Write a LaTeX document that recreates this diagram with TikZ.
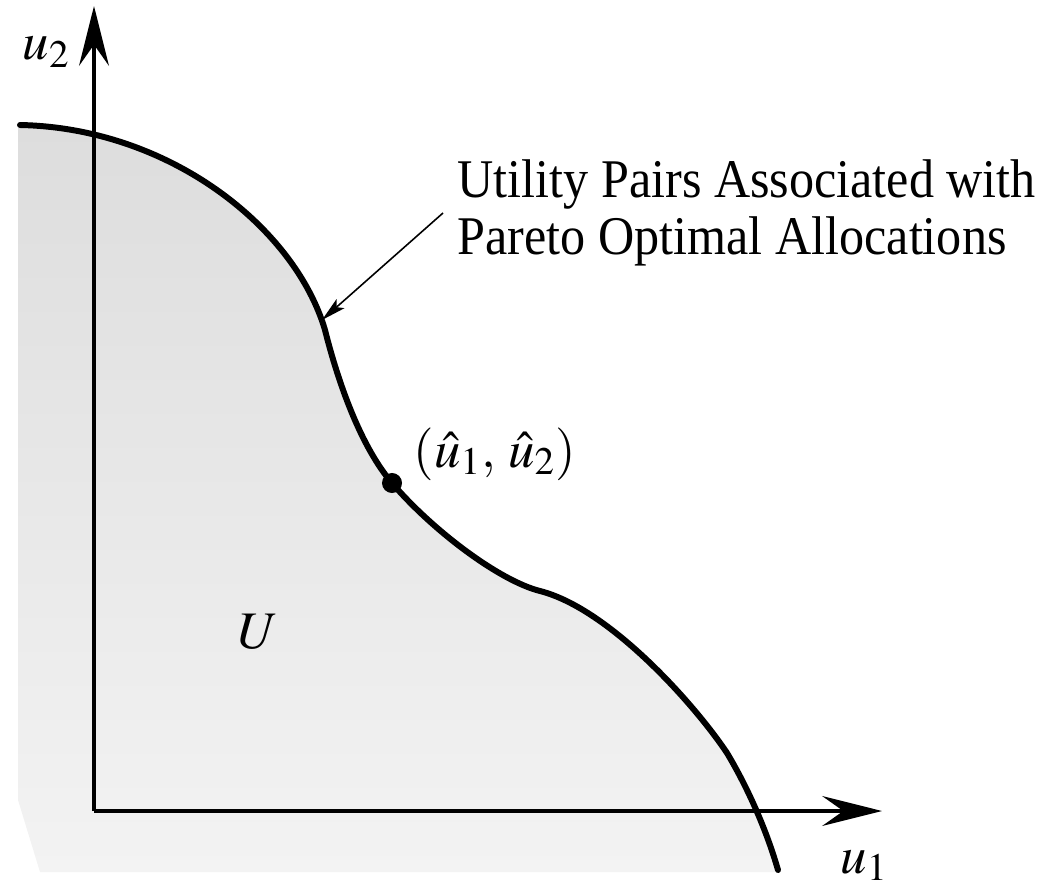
\documentclass[tikz,border=0pt]{standalone}
\usepackage{mathptmx}
\usepackage{fontspec}
\setmainfont{Liberation Serif}
\usetikzlibrary{arrows.meta}
\definecolor{colShadeTop}{HTML}{DDDDDD}
\definecolor{colShadeBot}{HTML}{F3F3F3}
\def\lblfont{\fontsize{15pt}{16.5pt}\selectfont}
\def\txtfont{\fontsize{15.5pt}{16.4pt}\selectfont\addfontfeatures{FakeStretch=0.92}}
\newcommand{\frontierpath}{%
  (20,125) .. controls (170,128) and (295,228) .. (325,330)
  .. controls (335,370) and (357,442) .. (392,483)
  .. controls (433,531) and (500,581) .. (540,591)
  .. controls (610,609) and (695,705) .. (727,753)
  .. controls (745,783) and (765,825) .. (778,870)}

\begin{document}
\begin{tikzpicture}[x=0.01cm, y=-0.01cm,
  axis/.style={line width=1.1pt, -{Stealth[length=17pt, width=8.5pt, inset=6pt]}},
  frontier/.style={line width=1.7pt, line cap=round},
  pointer/.style={line width=0.45pt, -{Stealth[length=7pt, width=3.4pt, inset=1.5pt]}},
  lbl/.style={font=\lblfont, inner sep=0pt}]
\useasboundingbox (0,0) rectangle (1048,888);

% ===================== SET U (shaded) =====================
\shade[top color=colShadeTop, bottom color=colShadeBot]
  \frontierpath -- (778,872) -- (40,872) -- (18,800) -- (18,125) -- cycle;

% ===================== AXES =====================
\coordinate (origin) at (94,811);
\coordinate (xend) at (882,811);
\coordinate (yend) at (94,6);
\draw[axis] (origin) -- (xend);
\draw[axis] (origin) -- (yend);
\node[lbl, anchor=base west] (u1lbl) at (840,873) {$u_1$};
\node[lbl, anchor=base west] (u2lbl) at (22,60) {$u_2$};

% ===================== FRONTIER =====================
\draw[frontier] \frontierpath;
\coordinate (ptip) at (322,320);

\node[circle, fill=black, inner sep=0pt, minimum size=0.2cm] (uhat) at (392,483) {};
\node[lbl, anchor=base west] (uhatlbl) at (413,467) {$(\hat{u}_1,\, \hat{u}_2)$};
\node[lbl, anchor=base west] (setU) at (237,648) {$U$};

\node[font=\txtfont, align=left, anchor=west, inner sep=4pt] (pareto) at (443,213)
  {Utility Pairs Associated with\\Pareto Optimal Allocations};
\draw[pointer] (pareto.west) -- (ptip);

\end{tikzpicture}
\end{document}
